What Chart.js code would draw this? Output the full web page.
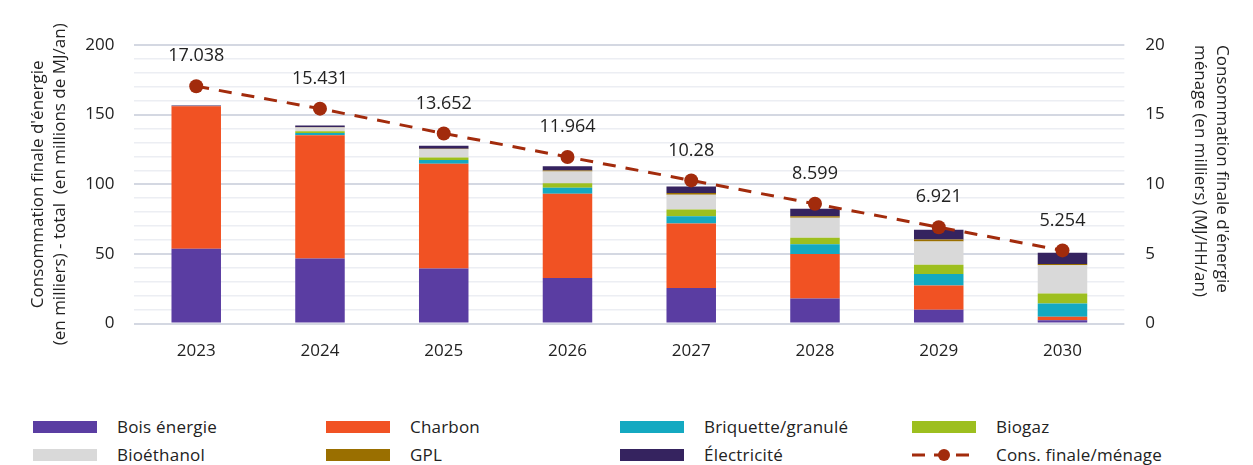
<!DOCTYPE html>
<html>
<head>
<meta charset="utf-8">
<script src="https://cdn.jsdelivr.net/npm/chart.js@4/dist/chart.umd.min.js"></script>
<style>
    body { margin: 0; background: #fff; font-family: "Open Sans", sans-serif; }
    #wrap { position: relative; width: 1253px; height: 386px; }
    #legend { position: absolute; left: 0; top: 405px; width: 1253px; height: 60px; }
    .item { position: absolute; height: 20px; font-size: 17px; letter-spacing: 0.2px; color: #222; line-height: 20px; white-space: nowrap; }
    .swatch { position: absolute; left: 0; top: 4px; width: 64px; height: 12px; }
    .item span { position: absolute; left: 84px; top: 0; }
</style>
</head>
<body>
<div id="wrap"><canvas id="chart" width="1253" height="386"></canvas></div>
<div id="legend"></div>
<script>
// values
var years = ['2023', '2024', '2025', '2026', '2027', '2028', '2029', '2030'];
var boisEnergie = [53.7, 46.8, 39.6, 32.7, 25.5, 18.0, 9.9, 2.4];
var charbon = [102.3, 88.4, 75.2, 60.5, 46.3, 32.0, 17.5, 2.6];
var briquette = [0, 1.7, 2.6, 4.3, 5.3, 6.9, 8.2, 9.4];
var biogaz = [0, 1.2, 1.9, 3.3, 4.8, 4.8, 6.7, 7.2];
var bioethanol = [0, 2.6, 5.9, 8.4, 10.6, 14.2, 16.6, 20.2];
var gpl = [0, 0.3, 0.4, 0.7, 1.2, 1.2, 1.4, 1.0];
var electricite = [0.5, 1.2, 2.0, 3.1, 4.8, 5.3, 7.0, 8.1];
var consMenage = [17.038, 15.431, 13.652, 11.964, 10.28, 8.599, 6.921, 5.254];

var colors = {
    bois: '#5a3da2',
    charbon: '#f15223',
    briquette: '#14a9c1',
    biogaz: '#9dbf1f',
    bioethanol: '#d9d9d9',
    gpl: '#9a6f00',
    elec: '#35235f',
    menage: '#a22b0c'
};

var FONT = '"Open Sans", sans-serif';
Chart.defaults.font.family = FONT;
Chart.defaults.color = '#222';

function bar(label, data, color) {
    return {
        type: 'bar',
        label: label,
        data: data,
        backgroundColor: color,
        borderWidth: 0,
        barPercentage: 0.8,
        categoryPercentage: 0.5,
        yAxisID: 'y',
        order: 1
    };
}

// draws the value above each point of the line
var pointLabels = {
    id: 'pointLabels',
    afterDatasetsDraw: function(chart) {
        var ctx = chart.ctx;
        chart.data.datasets.forEach(function(ds, i) {
            if (ds.type !== 'line') return;
            var meta = chart.getDatasetMeta(i);
            ctx.save();
            ctx.font = '18px ' + FONT;
            ctx.fillStyle = '#222';
            ctx.textAlign = 'center';
            ctx.textBaseline = 'middle';
            meta.data.forEach(function(pt, j) {
                ctx.fillText(String(ds.data[j]), pt.x, pt.y - 30);
            });
            ctx.restore();
        });
    }
};

var chart = new Chart(document.getElementById('chart').getContext('2d'), {
    data: {
        labels: years,
        datasets: [
            bar('Bois énergie', boisEnergie, colors.bois),
            bar('Charbon', charbon, colors.charbon),
            bar('Briquette/granulé', briquette, colors.briquette),
            bar('Biogaz', biogaz, colors.biogaz),
            bar('Bioéthanol', bioethanol, colors.bioethanol),
            bar('GPL', gpl, colors.gpl),
            bar('Électricité', electricite, colors.elec),
            {
                type: 'line',
                label: 'Cons. finale/ménage',
                data: consMenage,
                borderColor: colors.menage,
                backgroundColor: colors.menage,
                borderWidth: 3,
                borderDash: [13, 10],
                pointRadius: 7,
                pointBorderWidth: 0,
                pointBackgroundColor: colors.menage,
                fill: false,
                tension: 0,
                yAxisID: 'y2',
                order: 0
            }
        ]
    },
    options: {
        responsive: false,
        animation: false,
        layout: { padding: { top: 45, bottom: 16, left: 2, right: 3 } },
        plugins: {
            legend: { display: false },
            tooltip: { enabled: false }
        },
        scales: {
            x: {
                stacked: true,
                grid: { display: false },
                border: { display: false },
                ticks: { font: { size: 17 }, color: '#222', padding: 9 }
            },
            y: {
                stacked: true,
                position: 'left',
                min: 0,
                max: 200,
                border: { display: false },
                grid: {
                    drawTicks: false,
                    color: function(c) { return c.tick.value % 50 === 0 ? '#d4d8e2' : '#eceef3'; },
                    lineWidth: function(c) { return c.tick.value % 50 === 0 ? 2 : 1.5; }
                },
                ticks: {
                    stepSize: 10,
                    padding: 20,
                    font: { size: 17 },
                    color: '#222',
                    autoSkip: false,
                    callback: function(v) { return v % 50 === 0 ? v : ''; }
                },
                title: {
                    display: true,
                    text: ["Consommation finale d'énergie", '(en milliers) - total  (en millions de MJ/an)'],
                    font: { size: 17, lineHeight: 1.3 },
                    color: '#222',
                    padding: { top: 25, bottom: -6 }
                }
            },
            y2: {
                position: 'right',
                min: 0,
                max: 20,
                border: { display: false },
                grid: { drawOnChartArea: false, drawTicks: false },
                ticks: { stepSize: 5, padding: 21, font: { size: 17 }, color: '#222' },
                title: {
                    display: true,
                    align: 'end',
                    text: ["Consommation finale d'énergie", 'ménage (en milliers) (MJ/HH/an)'],
                    font: { size: 17, lineHeight: 1.3 },
                    color: '#222',
                    padding: { top: 17, bottom: 3 }
                }
            }
        }
    },
    plugins: [pointLabels]
});

// legend in a fixed 4-column grid, built from the datasets
var legend = document.getElementById('legend');
var colX = [33, 326, 620, 912];
var rowY = [12, 40];
chart.data.datasets.forEach(function(ds, i) {
    var item = document.createElement('div');
    item.className = 'item';
    item.style.left = colX[i % 4] + 'px';
    item.style.top = rowY[Math.floor(i / 4)] + 'px';
    if (ds.type === 'line') {
        item.innerHTML = '<svg class="swatch" style="top:0;height:20px" width="64" height="20">' +
            '<line x1="0" y1="10" x2="64" y2="10" stroke="' + ds.borderColor + '" stroke-width="3" stroke-dasharray="13 9"/>' +
            '<circle cx="32" cy="10" r="6" fill="' + ds.borderColor + '"/></svg>';
    } else {
        item.innerHTML = '<div class="swatch" style="background:' + ds.backgroundColor + '"></div>';
    }
    var txt = document.createElement('span');
    txt.textContent = ds.label;
    item.appendChild(txt);
    legend.appendChild(item);
});
</script>
</body>
</html>
